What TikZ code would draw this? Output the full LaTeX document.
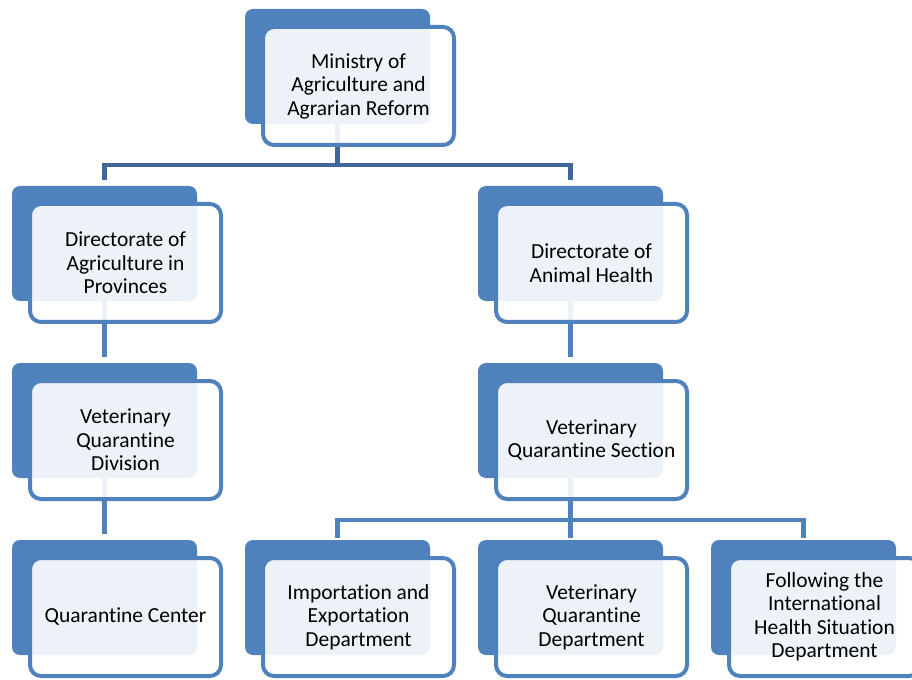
\documentclass[tikz,border=0pt]{standalone}
\usepackage{fontspec}
\setmainfont{Carlito}[Ligatures=NoCommon]
\usepackage{xcolor}
\usetikzlibrary{positioning, calc, backgrounds}
\newlength\pxu
\setlength\pxu{0.75pt}
\definecolor{boxblue}{HTML}{4F81BD}
\definecolor{linkdark}{HTML}{40679A}
\tikzset{
    backbox/.style={rectangle, rounded corners=8\pxu, fill=boxblue, minimum width=185\pxu, minimum height=115\pxu, inner sep=0pt, outer sep=0pt},
    frontbox/.style={rectangle, rounded corners=11\pxu, draw=boxblue, line width=4\pxu, fill=white, fill opacity=0.9, text opacity=1, minimum width=191\pxu, minimum height=118\pxu, inner sep=0pt, outer sep=0pt, align=center, anchor=north west, font=\fontsize{16.1pt}{17.6pt}\selectfont},
    link/.style={line width=4.5\pxu, draw=boxblue},
    toplink/.style={link, draw=linkdark}
}

\begin{document}
\begin{tikzpicture}[x=0.75pt, y=-0.75pt, node distance=62\pxu]
    \useasboundingbox (0,0) rectangle (912,680);

    % back plates
    \node (mof-b) [backbox, anchor=north west] at (245,9) {};
    \node (dap-b) [backbox, below left=62\pxu and 48\pxu of mof-b] {};
    \node (dah-b) [backbox, below right=62\pxu and 48\pxu of mof-b] {};
    \node (vqd-b) [backbox, below=of dap-b] {};
    \node (qc-b) [backbox, below=of vqd-b] {};
    \node (vqs-b) [backbox, below=of dah-b] {};
    \node (vqdep-b) [backbox, below=of vqs-b] {};
    \node (ied-b) [backbox, left=48\pxu of vqdep-b] {};
    \node (fihs-b) [backbox, right=48\pxu of vqdep-b] {};

    % text boxes
    \node (mof) [frontbox] at ([shift={(18,18)}]mof-b.north west) {Ministry of\\Agriculture and\\Agrarian Reform};
    \node (dap) [frontbox] at ([shift={(18,18)}]dap-b.north west) {Directorate of\\Agriculture in\\Provinces};
    \node (dah) [frontbox] at ([shift={(18,18)}]dah-b.north west) {Directorate of\\Animal Health};
    \node (vqd) [frontbox] at ([shift={(18,18)}]vqd-b.north west) {Veterinary\\Quarantine\\Division};
    \node (vqs) [frontbox] at ([shift={(18,18)}]vqs-b.north west) {Veterinary\\Quarantine Section};
    \node (qc) [frontbox] at ([shift={(18,18)}]qc-b.north west) {Quarantine Center};
    \node (ied) [frontbox] at ([shift={(18,18)}]ied-b.north west) {Importation and\\Exportation\\Department};
    \node (vqdep) [frontbox] at ([shift={(18,18)}]vqdep-b.north west) {Veterinary\\Quarantine\\Department};
    \node (fihs) [frontbox] at ([shift={(18,18)}]fihs-b.north west) {Following the\\International\\Health Situation\\Department};

    % connectors
    \begin{scope}[on background layer]
        \coordinate (topbar) at ($(mof-b.south)+(0,41)$);
        \draw[toplink] (mof-b.south) -- (topbar);
        \draw[toplink] ($(dap-b.north)+(0,-6)$) |- (topbar) -| ($(dah-b.north)+(0,-6)$);
        \draw[link] (dap-b.south) -- ($(vqd-b.north)+(0,-6)$);
        \draw[link] (vqd-b.south) -- ($(qc-b.north)+(0,-6)$);
        \draw[link] (dah-b.south) -- ($(vqs-b.north)+(0,-6)$);
        \coordinate (lowbar) at ($(vqs-b.south)+(0,42)$);
        \draw[link] (vqs-b.south) -- ($(vqdep-b.north)+(0,-2)$);
        \draw[link] ($(ied-b.north)+(0,-2)$) |- (lowbar) -| ($(fihs-b.north)+(0,-2)$);
    \end{scope}
\end{tikzpicture}
\end{document}
